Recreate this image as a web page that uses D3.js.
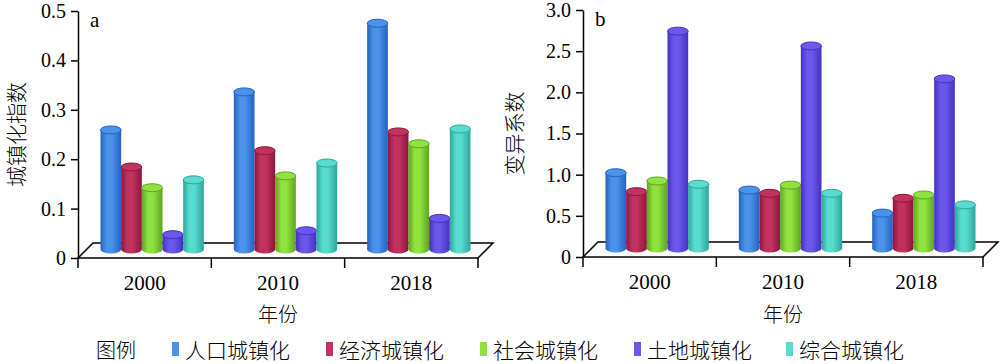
<!DOCTYPE html>
<html><head><meta charset="utf-8">
<script src="https://cdnjs.cloudflare.com/ajax/libs/d3/7.8.5/d3.min.js"></script>
<style>body{margin:0;background:#fff}</style>
</head><body>
<svg id="chart" width="1000" height="364"></svg>
<script>
// categories & series
const years = ['2000', '2010', '2018'];
const series = ['人口城镇化', '经济城镇化', '社会城镇化', '土地城镇化', '综合城镇化'];
const colors = ['#4b92ea', '#c2325e', '#8fe23f', '#6b57ea', '#58dccd'];
const darks  = ['#2462c2', '#8a1640', '#5ea41e', '#4431c0', '#2ea59a'];

// panel a — 城镇化指数
const aPop    = [0.242, 0.319, 0.458];
const aEcon   = [0.167, 0.200, 0.238];
const aSocial = [0.125, 0.149, 0.214];
const aLand   = [0.030, 0.038, 0.063];
const aComp   = [0.141, 0.175, 0.244];
const aTicks  = [0, 0.1, 0.2, 0.3, 0.4, 0.5];

// panel b — 变异系数
const bPop    = [0.92, 0.71, 0.43];
const bEcon   = [0.69, 0.67, 0.61];
const bSocial = [0.82, 0.77, 0.65];
const bLand   = [2.64, 2.46, 2.06];
const bComp   = [0.78, 0.67, 0.53];
const bTicks  = [0, 0.5, 1.0, 1.5, 2.0, 2.5, 3.0];

const svg = d3.select('#chart');
const serif = "'Liberation Serif', 'Times New Roman', serif";
const cjk = "'Noto Sans CJK SC', sans-serif";

// cylinder gradients
const defs = svg.append('defs');
series.forEach((s, i) => {
  const g = defs.append('linearGradient').attr('id', 'cyl' + i)
    .attr('x1', 0).attr('x2', 1).attr('y1', 0).attr('y2', 0);
  g.append('stop').attr('offset', '0%').attr('stop-color', darks[i]);
  g.append('stop').attr('offset', '30%').attr('stop-color', colors[i]);
  g.append('stop').attr('offset', '55%').attr('stop-color', colors[i]);
  g.append('stop').attr('offset', '100%').attr('stop-color', darks[i]);
});

function drawPanel(o) {
  const g = svg.append('g');
  const depth = 15;
  const y = d3.scaleLinear().domain([0, o.max]).range([o.yZero, o.yTop]);
  const x = d3.scaleBand().domain(years).range([o.x0, o.x1]).padding(0);
  const bw = x.bandwidth();
  const groupW = bw * 0.775;
  const xs = d3.scaleBand().domain(series).range([0, groupW]).padding(0);

  // floor
  g.append('path')
    .attr('d', `M${o.x0},${o.yZero} L${o.x0 + depth},${o.yZero - depth} L${o.x1 + depth},${o.yZero - depth} L${o.x1},${o.yZero} Z`)
    .attr('fill', 'none').attr('stroke', '#000').attr('stroke-width', 1.5);

  // y axis
  const ax = g.append('g').attr('transform', `translate(${o.x0},0)`)
    .call(d3.axisLeft(y).tickValues(o.ticks).tickSize(7).tickSizeOuter(0).tickPadding(5)
      .tickFormat(d => d === 0 ? '0' : d3.format('.1f')(d)));
  ax.select('.domain').attr('stroke-width', 1.5);
  ax.selectAll('.tick line').attr('stroke-width', 1.5);
  ax.selectAll('text').style('font-family', serif).style('font-size', '20px').attr('fill', '#000');

  // x ticks at band boundaries
  const bounds = years.map(d => x(d)).concat([o.x1]);
  g.selectAll('.xt').data(bounds).join('line')
    .attr('x1', d => d).attr('x2', d => d)
    .attr('y1', o.yZero).attr('y2', o.yZero + 10)
    .attr('stroke', '#000').attr('stroke-width', 1.5);
  g.selectAll('.xl').data(years).join('text')
    .attr('x', d => x(d) + bw / 2).attr('y', o.yZero + 32)
    .attr('text-anchor', 'middle')
    .style('font-family', serif).style('font-size', '21px')
    .text(d => d);

  // cylinders
  const ry = 4;
  const base = o.yZero - depth / 2 - 1;
  o.data.forEach((vals, si) => {
    vals.forEach((v, yi) => {
      const left = x(years[yi]) + (bw - groupW) / 2 + depth / 2 + xs(series[si]);
      const w = xs.bandwidth();
      const top = y(v) - depth / 2 - 1;
      const rx = w / 2;
      const cy = g.append('g');
      cy.append('path')
        .attr('d', `M${left},${top} L${left},${base} A${rx},${ry} 0 0 0 ${left + w},${base} L${left + w},${top} Z`)
        .attr('fill', `url(#cyl${si})`);
      cy.append('ellipse')
        .attr('cx', left + rx).attr('cy', top).attr('rx', rx).attr('ry', ry)
        .attr('fill', colors[si]).attr('stroke', darks[si]).attr('stroke-width', 1);
    });
  });

  // panel letter
  g.append('text').attr('x', o.x0 + 12).attr('y', o.yTop + 16)
    .style('font-family', serif).style('font-size', '21px').text(o.letter);

  // y title
  g.append('text')
    .attr('transform', `translate(${o.titleX},${(o.yTop + o.yZero) / 2}) rotate(-90)`)
    .attr('text-anchor', 'middle').attr('dominant-baseline', 'central')
    .style('font-family', cjk).style('font-weight', 300).style('font-size', '21px').text(o.title);

  // x title
  g.append('text').attr('x', (o.x0 + o.x1) / 2).attr('y', 313)
    .attr('text-anchor', 'middle').attr('dominant-baseline', 'central')
    .style('font-family', cjk).style('font-weight', 300).style('font-size', '20px').text('年份');
}

drawPanel({ x0: 78, x1: 478, yTop: 11, yZero: 258, max: 0.5, ticks: aTicks,
  data: [aPop, aEcon, aSocial, aLand, aComp], letter: 'a', title: '城镇化指数', titleX: 15 });
drawPanel({ x0: 583, x1: 983, yTop: 10, yZero: 257, max: 3.0, ticks: bTicks,
  data: [bPop, bEcon, bSocial, bLand, bComp], letter: 'b', title: '变异系数', titleX: 513 });

// legend
const legend = svg.append('g');
legend.append('text').attr('x', 96).attr('y', 349).attr('dominant-baseline', 'central')
  .style('font-family', cjk).style('font-weight', 300).style('font-size', '20px').text('图例');
const legX = [172, 326, 480, 634, 786];
series.forEach((s, i) => {
  legend.append('rect').attr('x', legX[i]).attr('y', 342).attr('width', 7).attr('height', 14)
    .attr('fill', colors[i]);
  legend.append('text').attr('x', legX[i] + 13).attr('y', 349).attr('dominant-baseline', 'central')
    .style('font-family', cjk).style('font-weight', 300).style('font-size', '21px').text(s);
});
</script>
</body></html>
